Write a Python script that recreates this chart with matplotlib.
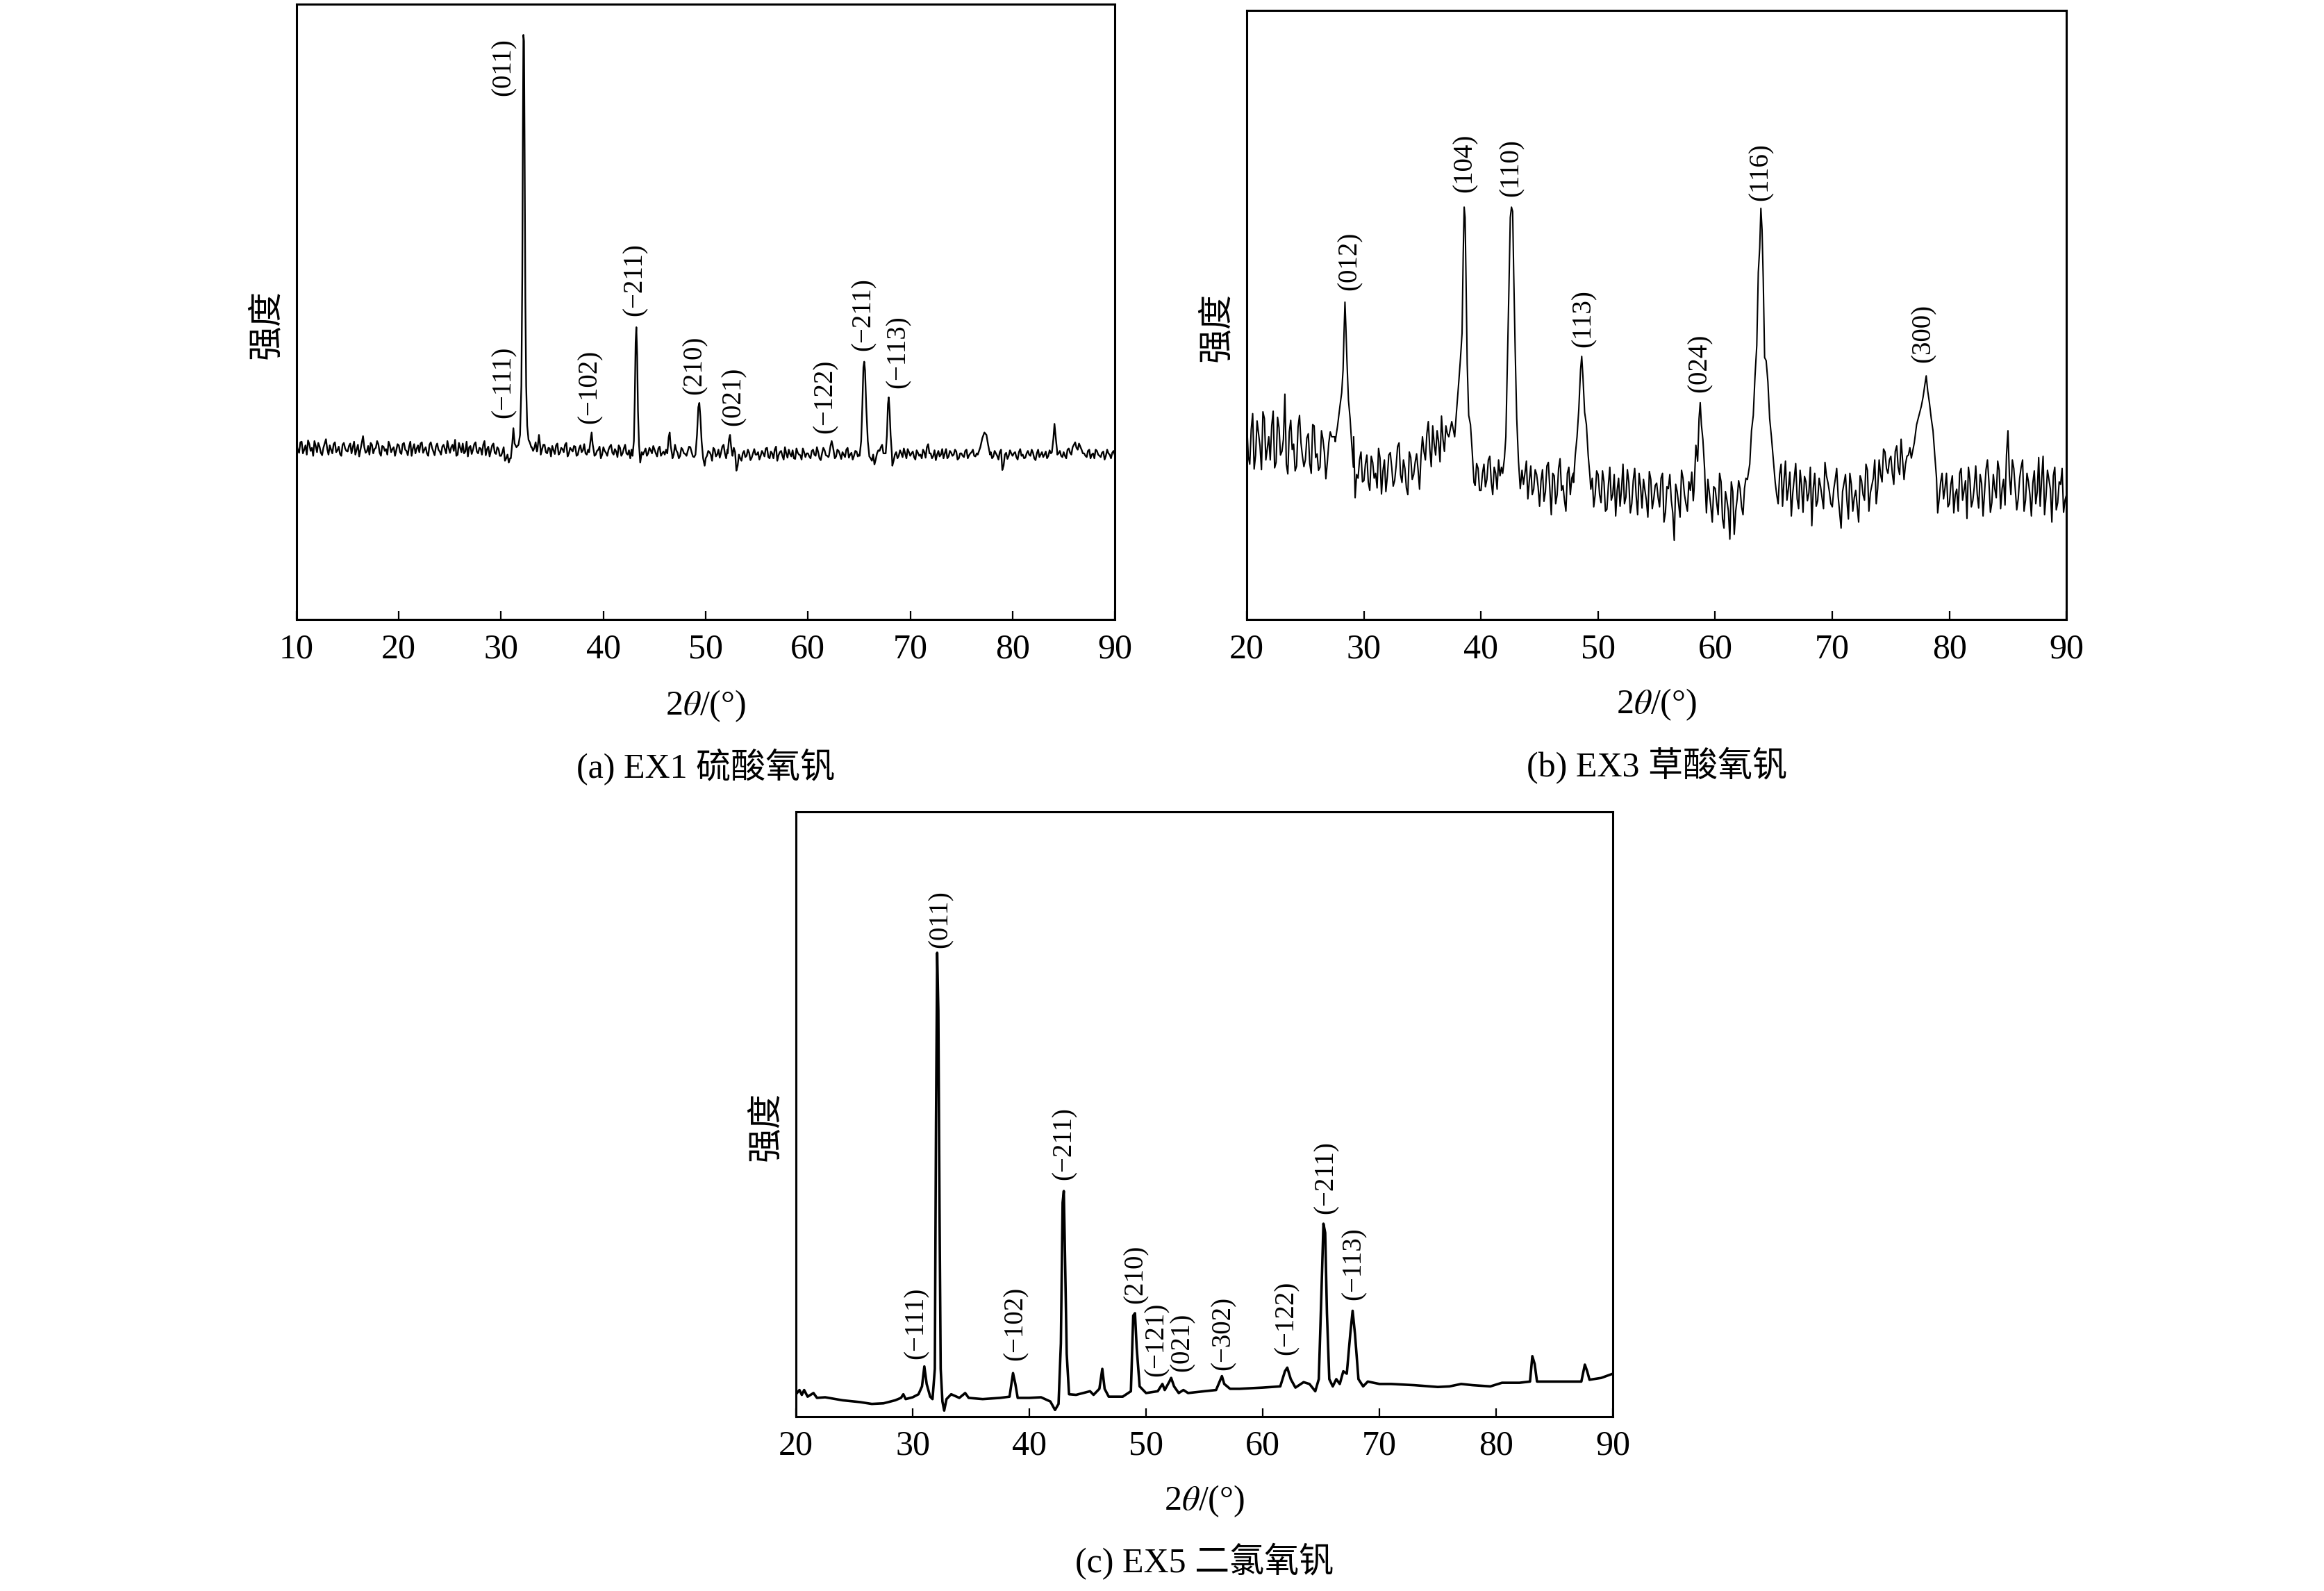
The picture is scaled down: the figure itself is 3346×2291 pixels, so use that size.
import numpy as np
import matplotlib.pyplot as plt

plt.rcParams["font.family"] = ["Liberation Serif", "Noto Sans CJK SC"]
plt.rcParams["mathtext.fontset"] = "stix"

# --- (a) EX1: noisy baseline, 0.25 deg grid from 10.0 and a second one from 10.125
# intensity in 1/1000 of the axis height
a_base_y = [
    284, 271, 289, 276, 268, 285, 279, 290, 272, 281, 267, 286, 277, 283, 270, 288, 275, 269, 284, 278,
    273, 286, 280, 268, 284, 276, 298, 271, 282, 287, 270, 279, 285, 266, 281, 277, 289, 272, 280, 275,
    283, 269, 287, 274, 281, 266, 285, 278, 272, 288, 276, 270, 284, 279, 267, 286, 273, 281, 277, 290,
    271, 284, 292, 268, 279, 286, 273, 265, 282, 276, 288, 270, 278, 284, 267, 281, 274, 286, 269, 277,
    266, 280, 262, 255, 272, 290, 275, 275, 275, 283, 278, 286, 280, 279, 273, 281, 276, 284, 270, 278,
    282, 269, 286, 271, 277, 284, 265, 279, 273, 281, 268, 283, 275, 270, 276, 279, 283, 268, 276, 262,
    280, 271, 276, 284, 268, 273, 283, 266, 278, 270, 275, 276, 268, 262, 270, 281, 273, 266, 279, 270,
    276, 265, 281, 270, 268, 274, 278, 262, 284, 271, 266, 276, 269, 274, 280, 265, 272, 271, 264, 270,
    262, 274, 268, 279, 265, 276, 271, 284, 262, 275, 270, 279, 242, 268, 258, 274, 266, 271, 263, 277,
    268, 260, 274, 265, 279, 262, 270, 276, 258, 272, 266, 280, 263, 269, 275, 261, 271, 267, 278, 264,
    270, 262, 276, 266, 272, 259, 279, 267, 264, 282, 270, 265, 274, 261, 268, 276, 263, 271, 266, 273,
    268, 272, 270, 270, 265, 258, 252, 270, 274, 284, 270, 270, 270, 250, 268, 262, 275, 264, 270, 277,
    266, 273, 260, 271, 268, 276, 263, 285, 270, 266, 259, 274, 268, 262, 277, 265, 271, 268, 273, 262,
    270, 264, 276, 267, 272, 266, 270, 270, 270, 270, 270, 268, 262, 274, 266, 272, 243, 268, 261, 275,
    266, 272, 260, 277, 268, 263, 274, 266, 271, 259, 276, 268, 264, 273, 266, 270, 270, 270, 270, 266,
    272, 262, 278, 268, 284, 279, 286, 276, 270, 264, 276, 268, 262, 274, 266, 271, 260, 276, 268, 271,
    267,
]
a_mid_y = [
    276, 288, 270, 283, 291, 274, 266, 282, 287, 271, 279, 293, 268, 276, 285, 272, 281, 266, 287, 274,
    282, 270, 289, 276, 265, 287, 280, 273, 268, 284, 277, 290, 271, 282, 274, 268, 283, 277, 266, 285,
    272, 285, 276, 267, 289, 278, 270, 283, 286, 271, 280, 266, 288, 273, 281, 276, 268, 284, 270, 279,
    280, 274, 266, 287, 272, 270, 289, 280, 269, 285, 273, 279, 268, 290, 277, 265, 283, 271, 280, 266,
    272, 258, 268, 262, 280, 280, 280, 280, 280, 280, 280, 280, 274, 288, 280, 268, 284, 272, 279, 265,
    275, 283, 268, 279, 272, 287, 270, 276, 282, 266, 278, 272, 285, 268, 280, 280, 266, 274, 281, 268,
    274, 266, 281, 271, 277, 264, 279, 270, 284, 268, 262, 280, 280, 280, 280, 268, 278, 270, 275, 282,
    270, 278, 266, 273, 276, 280, 280, 268, 275, 262, 279, 270, 266, 281, 272, 264, 280, 280, 280, 280,
    266, 272, 258, 276, 268, 263, 281, 270, 276, 280, 266, 272, 250, 262, 270, 264, 276, 259, 270, 268,
    272, 266, 270, 278, 264, 273, 262, 281, 267, 274, 260, 270, 276, 265, 262, 278, 268, 260, 272, 270,
    265, 274, 268, 280, 262, 270, 275, 266, 280, 280, 262, 276, 268, 272, 264, 279, 268, 260, 274, 265,
    280, 280, 280, 280, 262, 268, 260, 275, 280, 270, 280, 280, 280, 258, 272, 266, 270, 278, 262, 272,
    270, 264, 275, 266, 262, 272, 280, 270, 262, 275, 268, 265, 277, 270, 262, 274, 266, 276, 260, 270,
    266, 274, 262, 270, 276, 265, 280, 280, 280, 280, 280, 272, 265, 270, 260, 276, 250, 271, 266, 270,
    270, 264, 272, 266, 262, 270, 268, 276, 262, 270, 264, 272, 268, 262, 275, 280, 280, 268, 274, 264,
    266, 276, 271, 280, 288, 276, 281, 270, 266, 274, 262, 270, 276, 268, 264, 273, 266, 270, 262, 274,
]
a_peaks = [
    [(30.95, 262), (31.1, 288), (31.2, 311), (31.32, 286), (31.5, 280), (31.7, 284), (31.85, 300),
     (31.98, 380), (32.07, 560), (32.13, 800), (32.18, 950), (32.24, 940), (32.3, 760), (32.37, 520),
     (32.45, 380), (32.55, 315), (32.68, 292), (32.8, 288), (32.95, 280)],
    [(33.55, 276), (33.7, 300), (33.85, 278)],
    [(38.6, 272), (38.75, 292), (38.85, 304), (38.95, 285), (39.1, 270)],
    [(42.85, 266), (42.98, 290), (43.07, 360), (43.15, 450), (43.22, 475), (43.3, 430), (43.38, 340),
     (43.48, 285), (43.6, 255), (43.75, 272)],
    [(46.25, 270), (46.38, 296), (46.48, 304), (46.58, 282), (46.72, 268)],
    [(49.0, 268), (49.15, 300), (49.28, 345), (49.38, 352), (49.48, 330), (49.6, 290), (49.75, 262), (49.9, 250)],
    [(52.15, 270), (52.28, 293), (52.38, 300), (52.48, 282), (52.6, 268)],
    [(62.05, 266), (62.2, 282), (62.32, 290), (62.45, 280), (62.6, 264)],
    [(65.05, 266), (65.2, 290), (65.32, 350), (65.42, 410), (65.5, 419), (65.58, 405), (65.7, 345),
     (65.85, 290), (66.0, 265)],
    [(67.6, 270), (67.72, 300), (67.82, 350), (67.9, 361), (67.98, 340), (68.08, 300), (68.2, 270)],
    [(76.6, 268), (76.85, 280), (77.05, 295), (77.25, 304), (77.45, 300), (77.6, 285), (77.8, 268)],
    [(83.85, 272), (84.0, 295), (84.1, 318), (84.2, 300), (84.35, 275)],
]
a_labels = ["(011)", "(\u2212111)", "(\u2212102)", "(\u2212211)", "(210)", "(021)",
            "(\u2212122)", "(\u2212211)", "(\u2212113)"]
a_label_x = [30.25, 30.25, 38.7, 43.1, 48.9, 52.7, 61.7, 65.4, 68.8]
a_label_y = [898, 386, 378, 552, 413, 363, 363, 496, 435]

# --- (b) EX3: noisy baseline, 0.25 deg grid from 20.0 and from 20.125
b_base_y = [
    320, 255, 338, 270, 305, 246, 330, 281, 262, 342, 258, 315, 276, 370, 239, 327, 288, 252, 335, 268,
    262, 305, 240, 318, 272, 250, 296, 231, 290, 300, 300, 300, 300, 300, 300, 300, 205, 200, 232, 275,
    228, 270, 212, 258, 240, 281, 206, 262, 235, 274, 219, 252, 290, 225, 248, 205, 266, 238, 272, 214,
    300, 262, 325, 251, 288, 310, 259, 296, 318, 300, 300, 300, 300, 300, 300, 300, 300, 300, 220, 248,
    212, 255, 230, 268, 205, 240, 262, 250, 300, 300, 300, 300, 300, 300, 300, 240, 198, 252, 214, 238,
    186, 246, 210, 258, 172, 236, 205, 264, 220, 178, 250, 232, 300, 300, 300, 300, 300, 196, 232, 205,
    238, 192, 226, 181, 250, 205, 170, 232, 214, 190, 246, 175, 228, 203, 240, 183, 212, 168, 230, 198,
    224, 185, 240, 176, 215, 196, 130, 210, 168, 232, 190, 226, 242, 300, 300, 300, 300, 175, 208, 160,
    215, 172, 226, 150, 196, 132, 210, 178, 228, 185, 215, 300, 300, 300, 300, 300, 300, 300, 300, 300,
    252, 205, 238, 186, 260, 215, 170, 232, 198, 245, 176, 226, 208, 154, 240, 195, 218, 182, 236, 210,
    185, 230, 202, 150, 224, 195, 240, 178, 212, 160, 228, 196, 245, 208, 232, 190, 262, 226, 275, 240,
    268, 222, 285, 238, 262, 255, 270, 300, 300, 300, 300, 300, 300, 300, 300, 300, 175, 225, 198, 240,
    190, 236, 205, 178, 248, 212, 166, 230, 195, 252, 183, 224, 208, 262, 176, 238, 200, 245, 215, 188,
    310, 205, 248, 180, 232, 262, 196, 226, 170, 244, 210, 186, 268, 202, 230, 160, 250, 192, 222, 176,
    205,
]
b_mid_y = [
    268, 312, 247, 326, 285, 341, 262, 300, 318, 249, 332, 270, 296, 255, 308, 279, 244, 316, 290, 251,
    298, 256, 320, 266, 245, 310, 274, 258, 308, 300, 300, 300, 300, 300, 300, 300, 300, 238, 262, 226,
    255, 225, 268, 232, 216, 265, 244, 210, 270, 250, 228, 284, 238, 262, 216, 275, 230, 258, 246, 268,
    276, 305, 280, 318, 270, 292, 334, 276, 305, 300, 300, 300, 300, 300, 300, 300, 300, 300, 256, 212,
    240, 218, 262, 226, 250, 214, 236, 300, 300, 300, 300, 300, 300, 300, 222, 260, 228, 205, 246, 218,
    228, 194, 252, 215, 240, 190, 248, 212, 196, 240, 205, 240, 300, 300, 300, 300, 300, 214, 185, 244,
    205, 244, 178, 220, 196, 238, 212, 186, 255, 201, 225, 190, 248, 172, 218, 230, 195, 243, 182, 220,
    200, 232, 160, 218, 238, 175, 222, 190, 245, 205, 178, 212, 195, 300, 300, 300, 228, 230, 186, 218,
    192, 240, 165, 210, 178, 226, 140, 198, 215, 172, 232, 300, 300, 300, 300, 300, 300, 300, 300, 300,
    225, 190, 255, 228, 196, 242, 208, 256, 182, 220, 235, 195, 250, 215, 186, 232, 200, 258, 225, 190,
    214, 248, 176, 210, 238, 165, 222, 200, 186, 236, 205, 255, 178, 220, 262, 215, 238, 280, 248, 262,
    240, 276, 250, 296, 230, 268, 282, 300, 300, 300, 300, 300, 300, 300, 300, 215, 198, 240, 216, 185,
    222, 175, 214, 240, 196, 228, 250, 185, 218, 206, 238, 170, 246, 226, 192, 215, 260, 182, 230, 270,
    236, 262, 214, 198, 250, 178, 240, 205, 224, 190, 266, 230, 172, 245, 214, 236, 180, 226, 248, 196,
]
b_peaks = [
    [(27.55, 292), (27.75, 318), (27.95, 350), (28.1, 372), (28.22, 410), (28.3, 470), (28.38, 521),
     (28.46, 480), (28.55, 425), (28.68, 360), (28.82, 330), (28.95, 290), (29.1, 250)],
    [(37.25, 300), (37.5, 325), (37.75, 300), (37.9, 340), (38.1, 390), (38.25, 430), (38.38, 470),
     (38.48, 600), (38.56, 677), (38.64, 660), (38.72, 560), (38.82, 420), (38.95, 335), (39.1, 320),
     (39.25, 275), (39.4, 225)],
    [(41.85, 240), (42.0, 265), (42.12, 300), (42.25, 420), (42.38, 540), (42.5, 660), (42.6, 677),
     (42.7, 670), (42.8, 560), (42.92, 440), (43.05, 330), (43.2, 260), (43.35, 215), (43.5, 245)],
    [(47.9, 225), (48.05, 270), (48.2, 300), (48.35, 345), (48.5, 410), (48.6, 432), (48.7, 400),
     (48.85, 340), (49.0, 320), (49.15, 270), (49.3, 236)],
    [(58.2, 215), (58.35, 286), (58.5, 260), (58.62, 330), (58.72, 356), (58.82, 320), (58.95, 295), (59.1, 245)],
    [(62.75, 230), (62.95, 255), (63.1, 310), (63.25, 335), (63.4, 400), (63.55, 450), (63.68, 570),
     (63.8, 610), (63.9, 675), (64.0, 640), (64.1, 560), (64.22, 430), (64.35, 425), (64.5, 390),
     (64.65, 330), (64.8, 300), (64.95, 265)],
    [(76.75, 265), (77.0, 290), (77.2, 320), (77.4, 335), (77.6, 350), (77.75, 365), (77.9, 385),
     (78.02, 400), (78.15, 375), (78.3, 355), (78.45, 330), (78.6, 310), (78.75, 270), (78.9, 232)],
]
b_labels = ["(012)", "(104)", "(110)", "(113)", "(024)", "(116)", "(300)"]
b_label_x = [28.8, 38.6, 42.6, 48.8, 58.7, 63.9, 77.8]
b_label_y = [588, 749, 742, 494, 421, 735, 470]

# --- (c) EX5: smooth trace
c_x = [20.0, 20.3, 20.5, 20.7, 21.0, 21.5, 21.8, 22.5, 24.0, 25.5, 26.5, 27.5, 28.5, 29.0, 29.2, 29.4,
       30.0, 30.5, 30.8, 31.0, 31.2, 31.5, 31.7, 31.9, 32.0, 32.1, 32.2, 32.3, 32.4, 32.55, 32.7, 32.9,
       33.3, 34.0, 34.5, 34.8, 36.0, 37.5, 38.3, 38.6, 38.8, 39.0, 40.0, 41.0, 41.8, 42.2, 42.5, 42.7,
       42.85, 42.95, 43.05, 43.2, 43.4, 44.0, 45.2, 45.5, 46.0, 46.25, 46.45, 46.8, 48.0, 48.7, 48.9,
       49.05, 49.2, 49.45, 50.0, 51.0, 51.4, 51.6, 52.0, 52.15, 52.4, 52.8, 53.2, 53.6, 55.0, 56.0,
       56.5, 56.7, 57.2, 58.0, 60.0, 61.5, 61.9, 62.1, 62.4, 62.8, 63.5, 64.0, 64.5, 64.8, 65.0, 65.2,
       65.35, 65.5, 65.7, 66.0, 66.3, 66.6, 66.9, 67.2, 67.5, 67.7, 67.9, 68.2, 68.6, 69.0, 70.0, 71.0,
       73.0, 75.0, 76.0, 77.0, 78.0, 79.5, 80.5, 82.0, 82.9, 83.1, 83.3, 83.5, 85.0, 87.3, 87.6, 87.8,
       88.0, 89.0, 90.0]
c_y = [37, 44, 36, 44, 33, 39, 31, 32, 27, 24, 21, 22, 27, 31, 37, 29,
       32, 37, 50, 83, 54, 33, 29, 79, 487, 767, 671, 346, 79, 25, 10, 29,
       37, 31, 39, 31, 29, 31, 33, 72, 54, 31, 31, 32, 25, 11, 21, 121,
       354, 373, 271, 104, 37, 36, 42, 36, 46, 79, 46, 33, 33, 42, 167,
       171, 113, 50, 39, 42, 54, 44, 58, 64, 50, 39, 44, 39, 42, 44,
       67, 54, 46, 46, 48, 50, 75, 81, 62, 48, 57, 54, 42, 62, 187, 319,
       304, 171, 62, 50, 62, 54, 75, 71, 137, 175, 137, 62, 50, 58, 54, 54,
       52, 49, 50, 54, 52, 50, 56, 56, 58, 100, 87, 58, 58, 58, 86, 75,
       61, 64, 71]
c_labels = ["(011)", "(\u2212111)", "(\u2212102)", "(\u2212211)", "(210)", "(\u2212121)", "(021)",
            "(\u2212302)", "(\u2212122)", "(\u2212211)", "(\u2212113)"]
c_label_x = [32.4, 30.3, 38.8, 43.0, 49.1, 50.9, 53.1, 56.6, 62.0, 65.4, 67.8]
c_label_y = [823, 154, 154, 452, 235, 128, 123, 138, 163, 396, 253]

x_ticks_a = [10, 20, 30, 40, 50, 60, 70, 80, 90]
x_ticks_bc = [20, 30, 40, 50, 60, 70, 80, 90]
captions = ["(a) EX1 硫酸氧钒", "(b) EX3 草酸氧钒", "(c) EX5 二氯氧钒"]


def merge(series, peaks):
    # series: list of (start angle, values on a 0.25 deg grid)
    gx = np.concatenate([x0 + 0.25 * np.arange(len(v)) for x0, v in series])
    gy = np.concatenate([np.array(v, dtype=float) for x0, v in series])
    keep = np.ones(len(gx), bool)
    for pk in peaks:
        keep &= ~((gx >= pk[0][0]) & (gx <= pk[-1][0]))
    px = [p[0] for pk in peaks for p in pk]
    py = [p[1] for pk in peaks for p in pk]
    x = np.concatenate([gx[keep], px])
    y = np.concatenate([gy[keep], py])
    order = np.argsort(x, kind="stable")
    return x[order], y[order]


fig = plt.figure(figsize=(33.46, 22.91), dpi=100)
ax_a = fig.add_axes([0.1276, 0.6106, 0.3521, 0.3868])
ax_b = fig.add_axes([0.5365, 0.6106, 0.3527, 0.3829])
ax_c = fig.add_axes([0.3425, 0.1096, 0.3515, 0.3801])

xa, ya = merge([(10.0, a_base_y), (10.125, a_mid_y)], a_peaks)
xb, yb = merge([(20.0, b_base_y), (20.125, b_mid_y)], b_peaks)

ax_a.plot(xa, ya, color="black", linewidth=1.7)
ax_b.plot(xb, yb, color="black", linewidth=1.5)
ax_c.plot(c_x, c_y, color="black", linewidth=2.6)

panels = [
    (ax_a, (10, 90), x_ticks_a, a_labels, a_label_x, a_label_y),
    (ax_b, (20, 90), x_ticks_bc, b_labels, b_label_x, b_label_y),
    (ax_c, (20, 90), x_ticks_bc, c_labels, c_label_x, c_label_y),
]
for i, (ax, xlim, ticks, labs, lx, ly) in enumerate(panels):
    ax.set_xlim(*xlim)
    ax.set_ylim(0, 1000)
    ax.set_xticks(ticks)
    ax.set_yticks([])
    ax.tick_params(axis="x", direction="in", length=9, width=1.6, labelsize=36, pad=14)
    for s in ax.spines.values():
        s.set_linewidth(2.2)
    for t, x, y in zip(labs, lx, ly):
        ax.text(x, y, t, rotation=90, ha="center", va="center", fontsize=28)
    ax.set_ylabel("强度", fontsize=36)
    ax.yaxis.set_label_coords(-0.016, 0.48)
    ax.set_xlabel(r"2$\theta$/(°)", fontsize=36)
    ax.xaxis.set_label_coords(0.5, -0.14)
    ax.xaxis.label.set_va("center")
    ax.text(0.5, -0.24, captions[i], transform=ax.transAxes, ha="center", va="center", fontsize=36)

fig.savefig("out.png", dpi=100, facecolor="white")
